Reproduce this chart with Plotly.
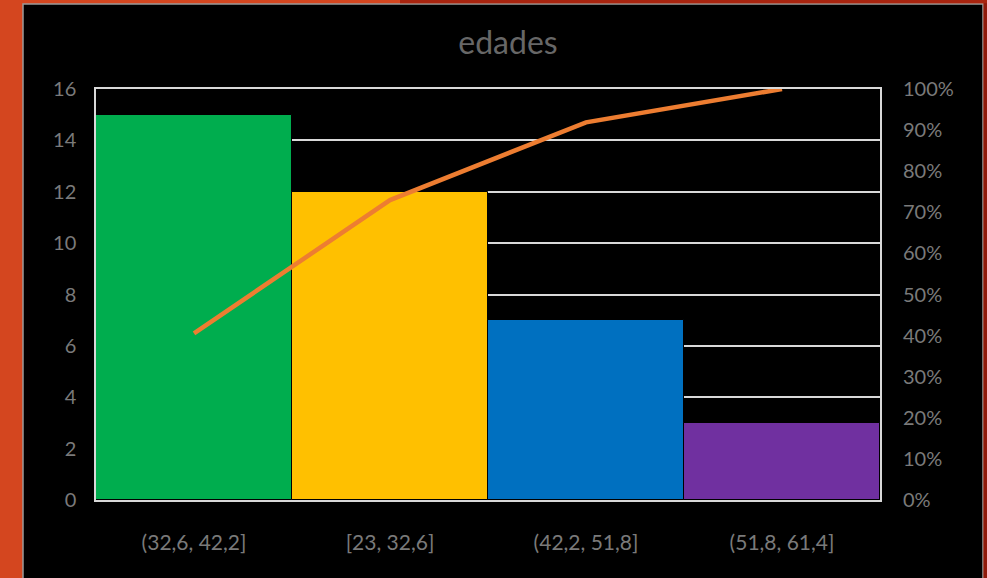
import numpy as np
import plotly.graph_objects as go

# Age intervals, sorted by frequency (Pareto order)
categories = ["(32,6, 42,2]", "[23, 32,6]", "(42,2, 51,8]", "(51,8, 61,4]"]
counts = [15, 12, 7, 3]
bar_colors = ["#00AD4E", "#FFC000", "#0070C0", "#7030A0"]
left_ticks = [0, 2, 4, 6, 8, 10, 12, 14, 16]
right_ticks = [0, 0.1, 0.2, 0.3, 0.4, 0.5, 0.6, 0.7, 0.8, 0.9, 1.0]

cum_share = np.cumsum(counts) / np.sum(counts)

W, H = 987, 578
FONT = "Lato"
TICK_COLOR = "#7a7a7a"
GRID = "#d9d9d9"

fig = go.Figure()
fig.add_trace(go.Bar(
    x=categories, y=counts, marker_color=bar_colors,
    marker_line=dict(color="#000000", width=1), width=1.0,
    yaxis="y", showlegend=False, hoverinfo="x+y",
))
fig.add_trace(go.Scatter(
    x=categories, y=cum_share, mode="lines",
    line=dict(color="#ED7D31", width=4.5),
    yaxis="y2", showlegend=False,
))

fig.update_layout(
    width=W, height=H,
    margin=dict(l=96, r=W - 880, t=89, b=H - 500),
    paper_bgcolor="#D4461F",
    plot_bgcolor="#000000",
    bargap=0,
    title=dict(text="edades", x=508 / W, xanchor="center", xref="container",
               y=1 - 43 / H, yanchor="middle", yref="container",
               font=dict(family=FONT, size=32, color="#676767")),
    xaxis=dict(
        type="category", showgrid=False, zeroline=False,
        showline=True, mirror=True, linecolor=GRID, linewidth=1.5,
        ticks="outside", ticklen=23, tickcolor="rgba(0,0,0,0)",
        tickfont=dict(family=FONT, size=21, color=TICK_COLOR),
        range=[-0.5, 3.5],
    ),
    yaxis=dict(
        range=[0, 16], tickvals=left_ticks,
        showgrid=True, gridcolor=GRID, gridwidth=1.5, zeroline=False,
        showline=True, mirror=True, linecolor=GRID, linewidth=1.5,
        ticks="outside", ticklen=14, tickcolor="rgba(0,0,0,0)",
        tickfont=dict(family=FONT, size=20, color=TICK_COLOR),
    ),
    yaxis2=dict(
        range=[0, 1], tickvals=right_ticks, tickformat=".0%",
        overlaying="y", side="right", showgrid=False, zeroline=False,
        showline=False,
        ticks="outside", ticklen=18, tickcolor="rgba(0,0,0,0)",
        tickfont=dict(family=FONT, size=20, color=TICK_COLOR),
    ),
    shapes=[
        # black chart area with a thin light frame
        dict(type="rect", xref="paper", yref="paper", layer="below",
             x0=(23 - 96) / 784, x1=(983 - 96) / 784,
             y0=(500 - H - 2) / 411, y1=(500 - 4) / 411,
             fillcolor="#000000", line=dict(color="#9a9a9a", width=1.5)),
        # dark red strip on the right edge
        dict(type="rect", xref="paper", yref="paper", layer="below",
             x0=(983.5 - 96) / 784, x1=(W + 2 - 96) / 784,
             y0=(500 - H - 2) / 411, y1=(500 - 3) / 411,
             fillcolor="#8E1A0B", line=dict(width=0)),
        # darker red top band
        dict(type="rect", xref="paper", yref="paper", layer="below",
             x0=(400 - 96) / 784, x1=(W + 2 - 96) / 784,
             y0=(500 - 3.3) / 411, y1=(502) / 411,
             fillcolor="#A8240F", line=dict(width=0)),
    ],
)

fig.write_html("out.html")
